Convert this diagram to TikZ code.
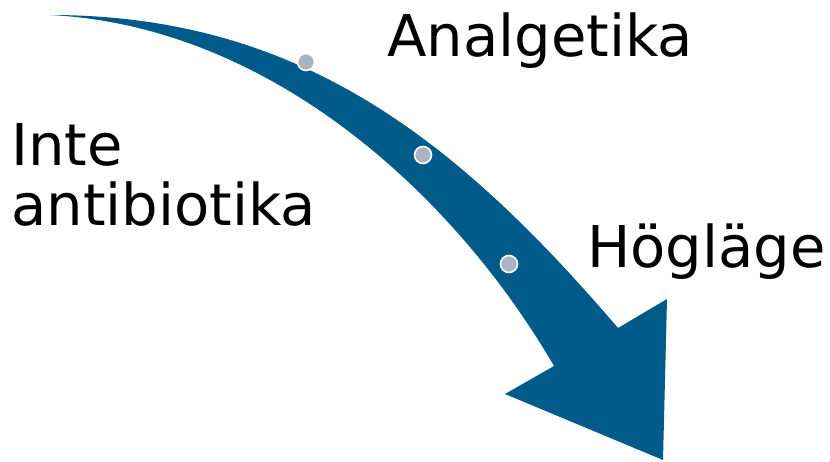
\documentclass[tikz,border=0pt]{standalone}
\usepackage{fontspec}
\setmainfont{DejaVu Sans}
\definecolor{arrowblue}{HTML}{005A8A}
\definecolor{dotgrey}{HTML}{A9B4C2}
\begin{document}
\begin{tikzpicture}[x=1pt,y=-1pt,
  dotnode/.style={circle,fill=dotgrey,draw=white,line width=1.6pt,minimum size=17pt,inner sep=0pt},
  lbl/.style={inner sep=0pt,font=\fontsize{57.6}{60}\selectfont,text=black}]
\useasboundingbox[fill=white] (0,0) rectangle (830,462);
\fill[arrowblue] (50,15) .. controls (300,15) and (457,140) .. (618,328)
  -- (667,299) -- (663,460) -- (505,394) -- (554,366)
  .. controls (454,194) and (270,26) .. (50,15) -- cycle;
\node[dotnode] (d1) at (306,62) {};
\node[dotnode] (d2) at (423,155) {};
\node[dotnode] (d3) at (509,264) {};
\node[lbl,anchor=base west] (analgetika) at (387,57) {Analgetika};
\node[lbl,anchor=north west,align=left] (inte) at (11,123) {Inte\\antibiotika};
\node[lbl,anchor=base west] (hoglage) at (587,268) {Högläge};
\end{tikzpicture}
\end{document}
